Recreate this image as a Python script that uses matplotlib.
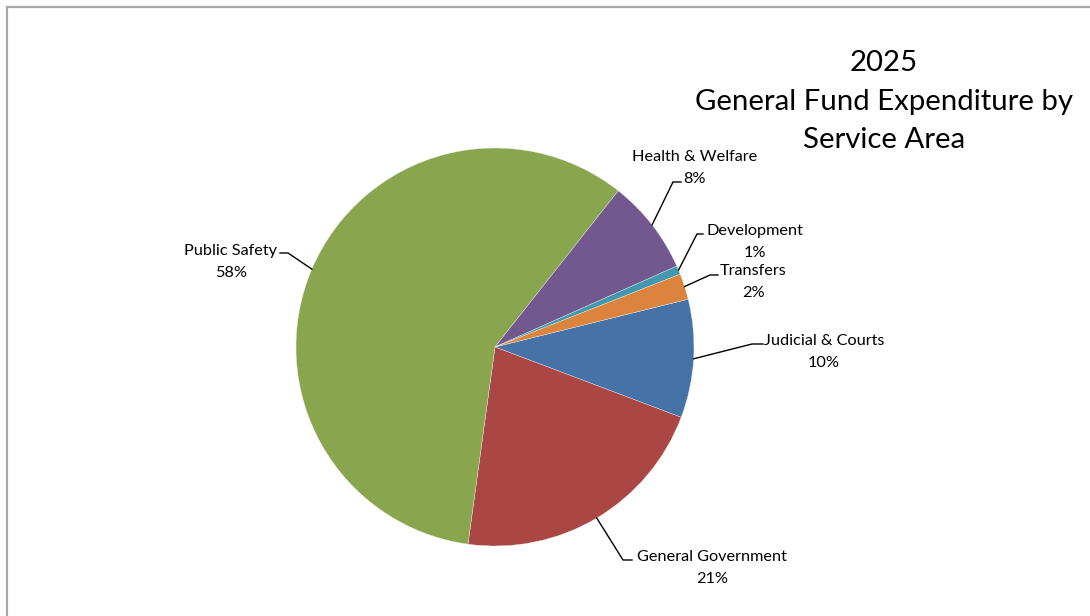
import numpy as np
import matplotlib
matplotlib.use("Agg")
import matplotlib.pyplot as plt
from matplotlib.lines import Line2D

plt.rcParams['font.family'] = ['Lato', 'DejaVu Sans']

# ---------------- Data ----------------
title_lines = ["2025", "General Fund Expenditure by", "Service Area"]
categories = ["Judicial & Courts", "General Government", "Public Safety",
              "Health & Welfare", "Development", "Transfers"]
shares = [9.6, 21.4, 58.4, 7.7, 0.7, 2.1]
colors = ["#4572A7", "#AA4643", "#89A54E", "#71588F", "#4198AF", "#DB843D"]

# ---------------- Layout (pixel coords, y measured from top) ----------------
W, H = 1090, 616
CX, CY, R = 495, 347, 199
START = 13.9
# elbow point, end of horizontal stub, label x, baseline of name line
label_layout = {
    "Judicial & Courts":  ((752, 344), 763, 824, 345),
    "General Government": ((623, 560), 632, 712, 561),
    "Public Safety":      ((288, 253), 280, 231, 255),
    "Health & Welfare":   ((673, 182), 681, 695, 161),
    "Development":        ((697, 234), 703, 755, 235),
    "Transfers":          ((710, 275), 718, 753, 275),
}
LINE_GAP = 22


def py(y):
    return H - y


fig = plt.figure(figsize=(W / 100, H / 100), dpi=100)
ax = fig.add_axes([0, 0, 1, 1])

wedges, _ = ax.pie(shares, colors=colors, startangle=START, counterclock=False,
                   center=(CX, py(CY)), radius=R,
                   wedgeprops=dict(edgecolor="#F2F2F2", linewidth=0.25))
ax.set_xlim(0, W)
ax.set_ylim(0, H)
ax.set_aspect("equal")
ax.axis("off")

total = sum(shares)
for w, name, val in zip(wedges, categories, shares):
    mid = np.deg2rad((w.theta1 + w.theta2) / 2)
    x0 = CX + R * np.cos(mid)
    y0 = py(CY) + R * np.sin(mid)
    (ex, ey), sx, tx, base = label_layout[name]
    ax.add_line(Line2D([x0, ex, sx], [y0, py(ey), py(ey)],
                       color="black", lw=1.0))
    ax.text(tx, py(base), name, ha="center", va="baseline",
            fontsize=11.7, color="black")
    ax.text(tx, py(base + LINE_GAP), f"{round(val / total * 100)}%",
            ha="center", va="baseline", fontsize=11.7, color="black")

# title
for line, base in zip(title_lines, [71, 110, 148]):
    ax.text(884, py(base), line, ha="center", va="baseline",
            fontsize=21.2, color="black")

# chart frame (only left and top edges visible)
ax.add_line(Line2D([6.5, 6.5, W], [0, py(6.5), py(6.5)],
                   color="#A6A6A6", lw=1.6, solid_joinstyle="miter"))

fig.savefig("out.png", dpi=100, facecolor="white")
